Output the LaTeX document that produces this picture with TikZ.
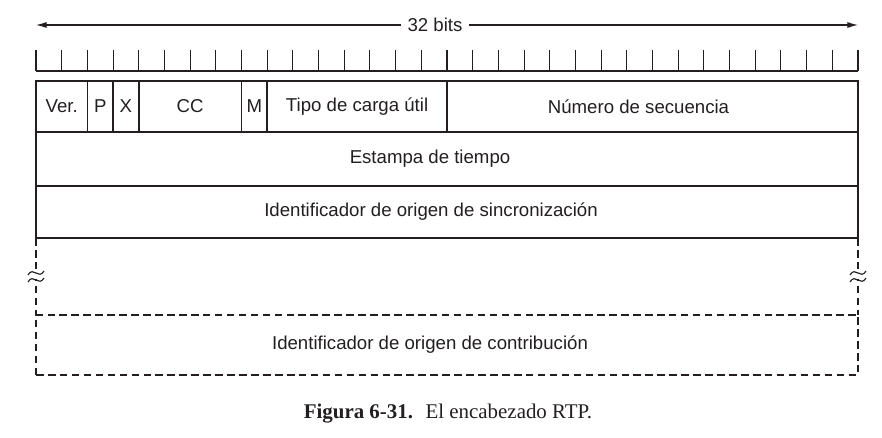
\documentclass[tikz,border=0pt]{standalone}
\usepackage{fontspec}
\setmainfont{Liberation Serif}
\newfontfamily\labelfont{Liberation Sans}
\usetikzlibrary{arrows.meta, positioning, calc}
\definecolor{ink}{RGB}{35,31,32}

% break mark on a dashed side
\newcommand{\cutmark}[1]{%
  \fill[white] ($(#1)+(-0.1,-0.05)$) rectangle ($(#1)+(0.1,0.05)$);
  \foreach \dy in {-0.07,0.07}
    \draw[ink, line width=0.65pt] ($(#1)+(-0.16,\dy-0.04)$) .. controls ($(#1)+(-0.05,\dy+0.15)$) and ($(#1)+(0.05,\dy-0.15)$) .. ($(#1)+(0.16,\dy+0.04)$);
}

\tikzset{
  field/.style={draw=ink, line width=0.9pt, inner sep=0pt, outer sep=0pt, text=ink,
    font=\labelfont\fontsize{10.6}{12}\selectfont},
  dashline/.style={draw=ink, line width=0.7pt, dash pattern=on 4.3pt off 2.5pt},
  tick/.style={draw=ink, line width=0.6pt},
  dimarrow/.style={draw=ink, line width=0.6pt, -{Latex[length=6pt,width=3.4pt]}}
}

\begin{document}
\begin{tikzpicture}
\useasboundingbox (0,0) rectangle (17.64,-8.76);

% width arrow
\node (bits) [text=ink, inner sep=3.5pt, font=\labelfont\fontsize{10.6}{12}\selectfont] at (8.70,-0.50) {32 bits};
\coordinate (leftend) at (0.72,-0.50);
\coordinate (rightend) at (17.16,-0.50);
\draw[dimarrow] (bits) -- (leftend);
\draw[dimarrow] (bits) -- (rightend);

% bit ruler
\draw[tick] (0.72,-1.42) -- (17.16,-1.42);
\foreach \i in {0,...,32}
  \draw[tick] ({0.72+\i*0.51375},-1.00) -- ++(0,-0.42);

% first word
\node(ver)  [field, anchor=north west, minimum width=1.0275cm, minimum height=1.02cm] at (0.72,-1.62) {Ver.};
\node(pbit) [field, right=0pt of ver, minimum width=0.51375cm, minimum height=1.02cm] {P};
\node(xbit) [field, right=0pt of pbit, minimum width=0.51375cm, minimum height=1.02cm] {X};
\node(cc)   [field, right=0pt of xbit, minimum width=2.055cm, minimum height=1.02cm] {CC};
\node(mbit) [field, right=0pt of cc, minimum width=0.51375cm, minimum height=1.02cm] {M};
\node(tipo) [field, right=0pt of mbit, minimum width=3.59625cm, minimum height=1.02cm] {Tipo de carga útil};
\node(num)  [field, right=0pt of tipo, minimum width=8.22cm, minimum height=1.02cm] {Número de secuencia\kern0.56cm};

% full words
\node(stamp) [field, anchor=north west, minimum width=16.44cm, minimum height=1.08cm] at (ver.south west) {Estampa de tiempo\kern0.68cm};
\node(ssrc)  [field, anchor=north west, minimum width=16.44cm, minimum height=1.04cm] at (stamp.south west) {Identificador de origen de sincronización\kern0.64cm};

% contributing sources
\node(csrc) [field, dashline, anchor=north west, minimum width=16.44cm, minimum height=1.20cm] at (0.72,-6.30) {Identificador de origen de contribución\kern0.68cm};
\draw[dashline] (ssrc.south west) -- (csrc.north west);
\draw[dashline] (ssrc.south east) -- (csrc.north east);
\coordinate (cutl) at (0.72,-5.53);
\coordinate (cutr) at (17.16,-5.53);
\cutmark{cutl}
\cutmark{cutr}

\node(caption) [text=ink, font=\fontsize{11.9}{14}\selectfont] at (8.96,-8.28) {\textbf{Figura 6-31.}\hspace{0.6em}El encabezado RTP.};
\end{tikzpicture}
\end{document}
